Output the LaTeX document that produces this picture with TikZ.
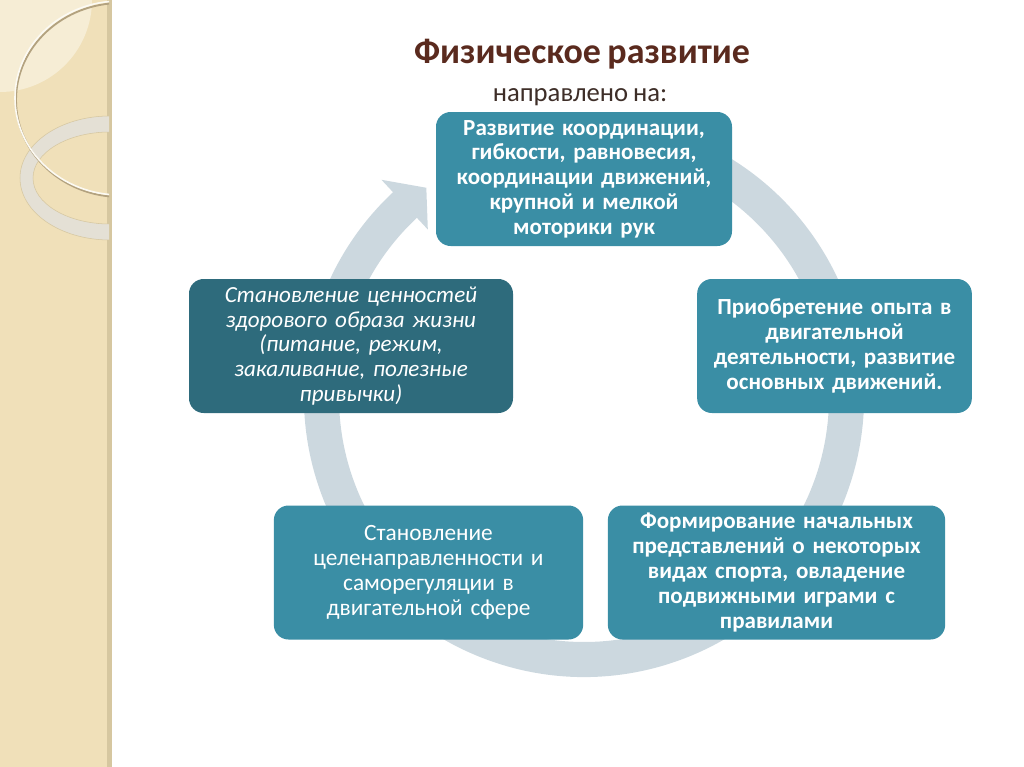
\documentclass[tikz,border=0pt]{standalone}
\usepackage{fontspec}
\setmainfont{Carlito}[WordSpace=0.8]
\usetikzlibrary{calc}
\definecolor{boxteal}{HTML}{3A8EA5}
\definecolor{boxdark}{HTML}{2E6B7C}
\definecolor{ringgrey}{HTML}{CCD8DF}
\definecolor{titlebrown}{HTML}{5A2A1E}
\definecolor{subbrown}{HTML}{3E2E28}
\definecolor{bandbeige}{HTML}{F0E0B9}
\definecolor{bandlight}{HTML}{F6EDD5}
\definecolor{bandedge}{HTML}{D6C7A0}
\definecolor{ringpale}{HTML}{E4E0D5}
\definecolor{bandshade}{HTML}{B3A27F}
\tikzstyle{goalbox}=[rounded corners=11pt, fill=boxteal, text=white, align=center, inner sep=0pt, minimum height=100.5pt, font=\fontsize{17.3}{18.6}\selectfont\bfseries]

\begin{document}
\begin{tikzpicture}[x=0.75pt, y=-0.75pt]
		   \useasboundingbox (0,0) rectangle (1024,767);
		   % side band
		   \begin{scope}
			   \fill[bandbeige] (0,0) rectangle (107,767);
			   \fill[bandedge] (107,0) rectangle (112,767);
			   \clip (0,0) rectangle (109,767);
			   \fill[bandlight] (0,0) circle (92);
			   \fill[ringpale, draw=bandedge, even odd rule] (110,178) ellipse [x radius=90, y radius=62] (110,178) ellipse [x radius=77, y radius=46];
			   \draw[bandshade, line width=1.4pt] (121,100) ellipse [x radius=105, y radius=97];
			   \draw[white!70!bandlight, line width=1.2pt] (120,98) ellipse [x radius=105, y radius=97];
		   \end{scope}
		   % title
		   \node (title) at (582, 54)[font=\fontsize{27}{30}\selectfont\bfseries, text=titlebrown] {Физическое развитие};
		   \node (subtitle) at (580, 97)[font=\fontsize{20}{24}\selectfont, text=subbrown] {направлено на:};
		   % ring arrow
		   \coordinate (hub) at (584, 397);
		   \fill[ringgrey] ($(hub)+(-70:280)$) arc[start angle=-70, end angle=227, radius=280]
			   -- ($(hub)+(227:297)$) -- ($(hub)+(233:262)$) -- ($(hub)+(227:229)$)
			   -- ($(hub)+(227:245)$) arc[start angle=227, end angle=-70, radius=245] -- cycle;
		   % boxes
		   \begin{scope}
			   \node (coord) at (584, 179)[goalbox, minimum width=222pt, text width=214pt] {Развитие координации,\\ гибкости, равновесия,\\ координации движений,\\ крупной и мелкой\\ моторики рук};
			   \node (health) at (351, 346)[goalbox, fill=boxdark, minimum width=243pt, text width=235pt, font=\fontsize{17.3}{18.6}\selectfont\itshape] {Становление ценностей\\ здорового образа жизни\\ (питание, режим,\\ закаливание, полезные\\ привычки)};
			   \node (practice) at (834.5, 346)[goalbox, minimum width=206pt, text width=200pt] {Приобретение опыта в\\ двигательной\\ деятельности, развитие\\ основных движений.};
			   \node (selfreg) at (428.5, 572.5)[goalbox, minimum width=232pt, text width=224pt, font=\fontsize{17.5}{18.6}\selectfont] {Становление\\ целенаправленности и\\ саморегуляции в\\ двигательной сфере};
			   \node (sport) at (776.5, 572.5)[goalbox, minimum width=253pt, text width=247pt] {Формирование начальных\\ представлений о некоторых\\ видах спорта, овладение\\ подвижными играми с\\ правилами};
		   \end{scope}
\end{tikzpicture}
\end{document}
